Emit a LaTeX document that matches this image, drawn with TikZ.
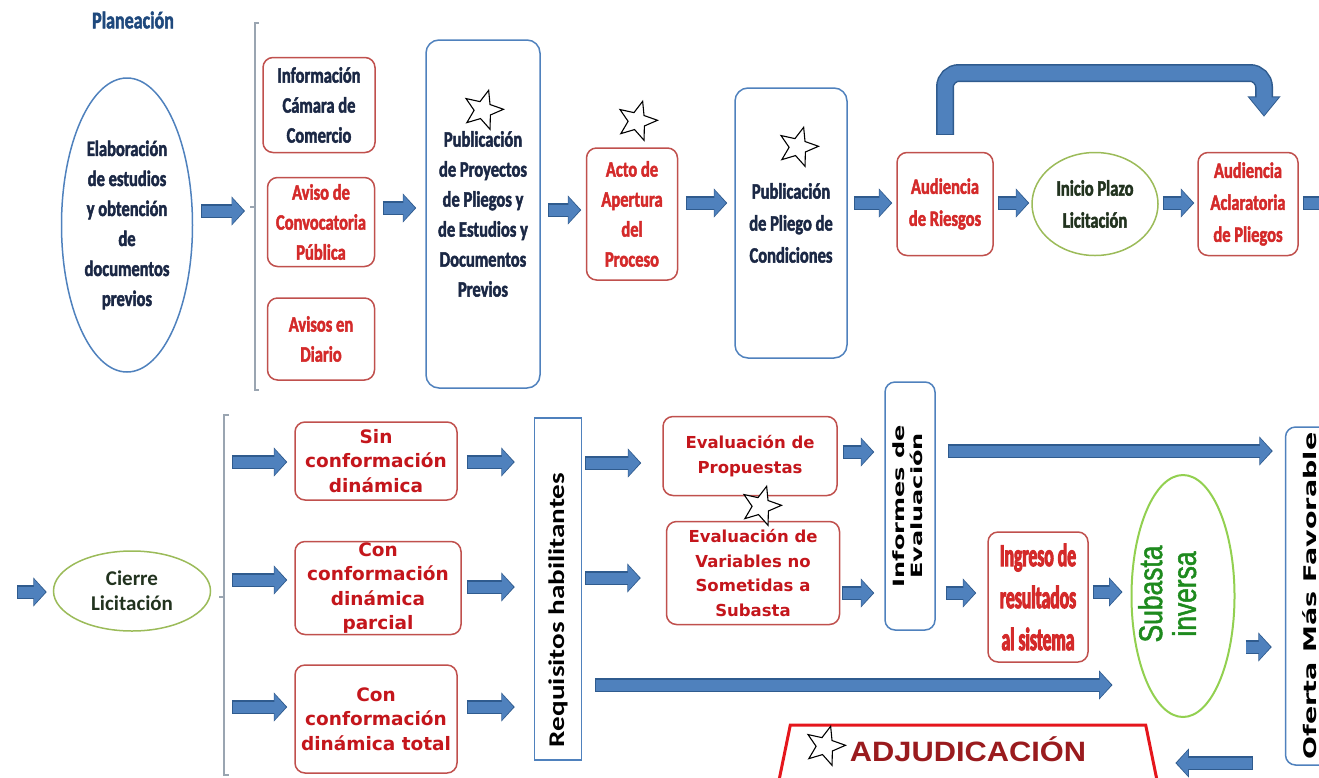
\documentclass[tikz,border=0pt]{standalone}
\usepackage{fontspec}
\usepackage{graphicx}
\usetikzlibrary{shapes.geometric,arrows.meta,calc}
\newfontfamily\fCal[FakeStretch=0.75, FakeBold=2]{Carlito}
\newfontfamily\fCalN{Carlito}
\newfontfamily\fCalR[FakeStretch=1.3]{Carlito}
\newfontfamily\fCalI[FakeStretch=0.55, FakeBold=3]{Carlito}
\newfontfamily\fDV{DejaVu Sans}
\newfontfamily\fDVR[FakeStretch=1.55]{DejaVu Sans}
\newfontfamily\fLib[FakeStretch=0.8, FakeBold=1.5]{Liberation Sans}
\newfontfamily\fLibW[FakeStretch=1.1]{Liberation Sans}
\definecolor{ablue}{HTML}{4F81BD}
\definecolor{adark}{HTML}{2F5B8E}
\definecolor{blueb}{HTML}{4F81BD}
\definecolor{redb}{HTML}{C0504D}
\definecolor{redt}{HTML}{D42A2A}
\definecolor{redt2}{HTML}{C4161C}
\definecolor{navy}{HTML}{1B2845}
\definecolor{greenb}{HTML}{9BBB59}
\definecolor{greenl}{HTML}{92D050}
\definecolor{greent}{HTML}{1E8A1E}
\definecolor{dgreen}{HTML}{22331F}
\definecolor{brkgray}{HTML}{9AA5B1}
\definecolor{adjred}{HTML}{E5161C}
\definecolor{adjtext}{HTML}{9A1B1E}
\definecolor{plan}{HTML}{1F497D}
\newcommand\barr[5]{\draw[barrow] ($(#1.east |- 0,#3)+(#4,0)$) -- ($(#2.west |- 0,#3)+(-#5,0)$);}
\begin{document}
\begin{tikzpicture}[x=1pt,y=-1pt,
  barrow/.style={line width=11pt, draw=ablue, -{Triangle[width=25pt,length=11.5pt]}, shorten >=1.3pt, shorten <=0.8pt,
    preaction={draw=adark, line width=14pt, -{Triangle[width=28.5pt,length=13.5pt]}, shorten >=0pt, shorten <=0pt}},
  bigarrow/.style={line width=15pt, draw=ablue, rounded corners=14pt, -{Triangle[width=28pt,length=18pt]}, shorten >=1.5pt, shorten <=0.8pt,
    preaction={draw=adark, line width=18pt, -{Triangle[width=32pt,length=20.5pt]}, shorten >=0pt, shorten <=0pt}},
  rb/.style={draw=redb, line width=1.5pt, rounded corners=10pt, fill=white, align=center, inner sep=0pt},
  bb/.style={draw=blueb, line width=1.5pt, rounded corners=13pt, fill=white, align=center, inner sep=0pt},
  topf/.style={font=\fCal\bfseries\fontsize{22}{30}\selectfont},
  topg/.style={font=\fCal\bfseries\fontsize{22}{32}\selectfont},
  dvf/.style={font=\fDV\bfseries\fontsize{18.5}{24.5}\selectfont},
  evf/.style={font=\fDV\bfseries\fontsize{16.5}{24.5}\selectfont},
  brkl/.style={draw=brkgray, line width=1.2pt},
  starnode/.style={star, star points=5, star point ratio=2.3, minimum size=41pt, inner sep=0pt, draw=black, line width=1.1pt, fill=white, rotate=-16}
]
\useasboundingbox (0,0) rectangle (1319,777);

% ---------- top row ----------
\node[font=\fCal\bfseries\fontsize{24}{28}\selectfont, text=plan] (plan) at (133,20) {Planeación};
\node[ellipse, draw=blueb, line width=1.5pt, minimum width=131pt, minimum height=294pt, inner sep=0pt, align=center, topf, text=navy] (elab) at (127,225) {Elaboración\\de estudios\\y obtención\\de\\documentos\\previos};

\coordinate (brk1) at (255,207);
\draw[brkl] (259,23) -- (255,23) -- (255,390) -- (259,390);
\draw[brkl] (250,207) -- (brk1);

\node[rb, topf, text=navy, minimum width=112pt, minimum height=95pt] (info) at (319,105) {Información\\Cámara de\\Comercio};
\node[rb, topf, text=redt, minimum width=107pt, minimum height=89pt] (aviso) at (321,222) {Aviso de\\Convocatoria\\Pública};
\node[rb, topf, text=redt, minimum width=107pt, minimum height=82pt] (avisos) at (321,339) {Avisos en\\Diario};
\node[bb, topf, text=navy, minimum width=114pt, minimum height=348pt] (pubp) at (483,214) {Publicación\\de Proyectos\\de Pliegos y\\de Estudios y\\Documentos\\Previos};
\node[rb, topf, text=redt, minimum width=91pt, minimum height=132pt] (acto) at (632,214) {Acto de\\Apertura\\del\\Proceso};
\node[bb, topg, text=navy, minimum width=112pt, minimum height=270pt] (pubc) at (791,223) {Publicación\\de Pliego de\\Condiciones};
\node[rb, topg, text=redt, minimum width=96pt, minimum height=103pt] (audr) at (945,204) {Audiencia\\de Riesgos};
\node[ellipse, draw=greenb, line width=1.5pt, minimum width=126pt, minimum height=103pt, inner sep=0pt, align=center, topg, text=dgreen] (inicio) at (1095,204) {Inicio Plazo\\Licitación};
\node[rb, topg, text=redt, minimum width=100pt, minimum height=103pt] (auda) at (1248,204) {Audiencia\\Aclaratoria\\de Pliegos};
\coordinate (offr) at (1345,203);

\draw[barrow] ($(elab.east |- 0,211)+(8,0)$) -- ($(brk1 |- 0,211)+(-10,0)$);
\barr{aviso}{pubp}{208}{7.5}{9}
\barr{pubp}{acto}{210}{7}{4.5}
\barr{acto}{pubc}{203}{7.5}{7}
\barr{pubc}{audr}{203}{6}{4}
\barr{audr}{inicio}{203}{4}{2}
\barr{inicio}{auda}{203}{4}{3}
\draw[barrow] ($(auda.east |- 0,203)+(4,0)$) -- (offr);
\draw[bigarrow] ($(audr.north)+(0,-17)$) -- (audr.north |- 0,73) -| ($(auda.north)+(16,-35)$);

% ---------- bottom row ----------
\coordinate (cin) at (17,592);
\coordinate (brk2) at (224,597);
\node[ellipse, draw=greenb, line width=1.5pt, minimum width=157pt, minimum height=80pt, inner sep=0pt, align=center, font=\fCalN\bfseries\fontsize{21}{25}\selectfont, text=dgreen] (cierre) at (132,591) {Cierre\\Licitación};
\draw[brkl] (229,415) -- (224,415) -- (224,775) -- (229,775);
\draw[brkl] (219,597) -- (brk2);

\node[rb, dvf, text=redt2, minimum width=162pt, minimum height=78pt] (sin) at (376,461) {Sin\\conformación\\dinámica};
\node[rb, dvf, text=redt2, minimum width=166pt, minimum height=93pt] (conp) at (378,588) {Con\\conformación\\dinámica\\parcial};
\node[rb, dvf, text=redt2, minimum width=162pt, minimum height=108pt] (cont) at (376,719) {Con\\conformación\\dinámica total};
\node[draw=blueb, line width=1.5pt, fill=white, minimum width=47pt, minimum height=342pt, inner sep=0pt] (req) at (558,589) {\rotatebox{90}{\fCalR\bfseries\fontsize{22.4}{26}\selectfont\hspace*{-42pt}Requisitos habilitantes}};
\node[rb, evf, text=redt2, minimum width=174pt, minimum height=79pt] (evp) at (750,456) {Evaluación de\\Propuestas};
\node[rb, evf, text=redt2, minimum width=173pt, minimum height=103pt] (evv) at (753,573) {Evaluación de\\Variables no\\Sometidas a\\Subasta};
\node[bb, rounded corners=10pt, minimum width=50pt, minimum height=248pt] (inf) at (910,506) {\rotatebox{90}{\fDVR\bfseries\fontsize{15.5}{16}\selectfont\begin{tabular}{@{}c@{}}Informes de\\Evaluación\end{tabular}}};
\node[rb, font=\fCalI\bfseries\fontsize{32}{42}\selectfont, text=redt, minimum width=100pt, minimum height=130pt] (ing) at (1038,597) {Ingreso de\\resultados\\al sistema};
\node[ellipse, draw=greenl, line width=2pt, minimum width=103pt, minimum height=242pt, inner sep=0pt] (sub) at (1183,596) {};
\node[font=\fLib\fontsize{33}{33}\selectfont, text=greent, inner sep=0pt] (subt) at (1172,594) {\rotatebox{90}{\begin{tabular}{@{}c@{}}Subasta\\inversa\end{tabular}}};
\node[bb, rounded corners=10pt, minimum width=49pt, minimum height=338pt] (ofe) at (1310,596) {\rotatebox{90}{\fDVR\bfseries\fontsize{17.4}{20}\selectfont Oferta Más Favorable}};
\node[trapezium, trapezium left angle=73, trapezium right angle=73, trapezium stretches body, minimum width=384pt, minimum height=70pt, inner sep=0pt, draw=adjred, line width=3pt, fill=white, font=\fLibW\bfseries\fontsize{28}{30}\selectfont, text=adjtext, text depth=22pt] (adj) at (968,760) {ADJUDICACIÓN};

\draw[barrow] (cin) -- ($(cierre.west |- 0,592)+(-6,0)$);
\draw[barrow] ($(brk2 |- 0,462)+(8,0)$) -- ($(sin.west |- 0,462)+(-7,0)$);
\draw[barrow] ($(brk2 |- 0,580)+(8,0)$) -- ($(conp.west |- 0,580)+(-7,0)$);
\draw[barrow] ($(brk2 |- 0,707)+(8,0)$) -- ($(cont.west |- 0,707)+(-7,0)$);
\barr{sin}{req}{462}{9}{19}
\barr{conp}{req}{587}{5}{19}
\barr{cont}{req}{707}{9}{19}
\barr{req}{evp}{463}{3}{21}
\barr{req}{evv}{578}{3}{25}
\barr{evp}{inf}{452}{5}{10}
\barr{evv}{inf}{593}{2}{10}
\barr{inf}{ofe}{451}{12}{12}
\barr{inf}{ing}{593}{10}{11}
\barr{ing}{sub}{592}{4}{8}
\barr{req}{sub}{685}{13}{18}
\barr{sub}{ofe}{647}{10}{13}
\draw[barrow] ($(ofe.west |- 0,763)+(-32,0)$) -- ($(adj.east |- 0,763)+(21,0)$);

% ---------- stars ----------
\node[starnode] (s1) at (483,110) {};
\node[starnode] (s2) at (637,121) {};
\node[starnode] (s3) at (798,147) {};
\node[starnode] (s4) at (761,506) {};
\node[starnode] (s5) at (825,746) {};
\end{tikzpicture}
\end{document}
